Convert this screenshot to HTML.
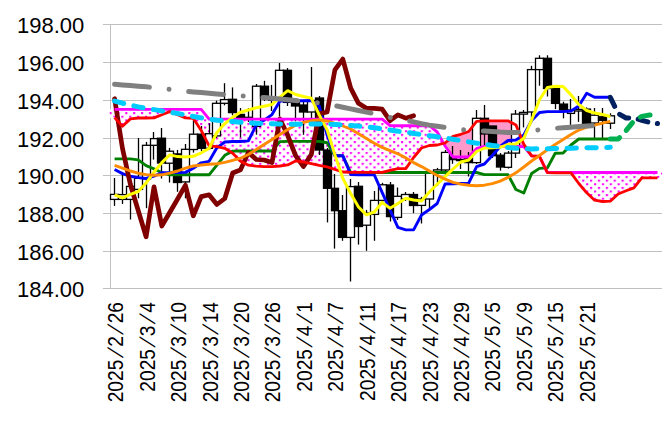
<!DOCTYPE html><html><head><meta charset="utf-8"><title>chart</title><style>
html,body{margin:0;padding:0;background:#fff}
#c{position:relative;width:662px;height:423px;overflow:hidden;background:#fff;font-family:"Liberation Sans",sans-serif;color:#000}
.yl{position:absolute;left:0;width:84.3px;text-align:right;font-size:22px;line-height:24px;height:24px;white-space:nowrap}
.xl{position:absolute;font-size:21.4px;line-height:22px;height:22px;white-space:nowrap;transform-origin:100% 100%;transform:rotate(-90deg) scaleX(0.895);right:0}
.xl i{font-style:normal;display:inline-block;width:14.4px;text-align:center;transform:skewX(-24deg)}
</style></head><body><div id="c">
<svg width="662" height="423" viewBox="0 0 662 423" style="position:absolute;left:0;top:0">
<defs><pattern id="dots" x="3.103" y="7.120" width="7.879" height="7.240" patternUnits="userSpaceOnUse"><rect width="8" height="8" fill="#fff"/><rect x="0" y="0" width="2.2" height="2.05" rx="0.5" fill="#ff00ff"/><rect x="3.939" y="3.620" width="2.2" height="2.05" rx="0.5" fill="#ff00ff"/></pattern><pattern id="dots2" x="3.038" y="2.240" width="7.879" height="7.240" patternUnits="userSpaceOnUse"><rect width="8" height="8" fill="#fff"/><rect x="0" y="0" width="2.2" height="2.05" rx="0.5" fill="#ff00ff"/><rect x="3.939" y="3.620" width="2.2" height="2.05" rx="0.5" fill="#ff00ff"/></pattern></defs>
<line x1="103" y1="24.50" x2="662" y2="24.50" stroke="#c0c0c0" stroke-width="1"/>
<line x1="103" y1="62.50" x2="662" y2="62.50" stroke="#c0c0c0" stroke-width="1"/>
<line x1="103" y1="100.50" x2="662" y2="100.50" stroke="#c0c0c0" stroke-width="1"/>
<line x1="103" y1="138.50" x2="662" y2="138.50" stroke="#c0c0c0" stroke-width="1"/>
<line x1="103" y1="175.50" x2="662" y2="175.50" stroke="#c0c0c0" stroke-width="1"/>
<line x1="103" y1="213.50" x2="662" y2="213.50" stroke="#c0c0c0" stroke-width="1"/>
<line x1="103" y1="251.50" x2="662" y2="251.50" stroke="#c0c0c0" stroke-width="1"/>
<line x1="103" y1="288.50" x2="662" y2="288.50" stroke="#c0c0c0" stroke-width="1"/>
<line x1="110.5" y1="24" x2="110.5" y2="289" stroke="#c0c0c0" stroke-width="1"/>
<rect x="109.6" y="109.4" width="5.3" height="8.2" fill="url(#dots)"/>
<polygon points="114.33,109.40 122.80,109.40 122.80,126.20 114.33,117.60" fill="url(#dots)"/>
<polygon points="122.20,109.40 130.67,109.40 130.67,118.90 122.20,126.20" fill="url(#dots)"/>
<polygon points="130.07,109.40 138.54,109.40 138.54,118.00 130.07,118.90" fill="url(#dots)"/>
<polygon points="137.94,109.40 146.41,109.40 146.41,118.00 137.94,118.00" fill="url(#dots)"/>
<polygon points="145.81,109.40 154.27,109.40 154.27,117.90 145.81,118.00" fill="url(#dots)"/>
<polygon points="153.67,109.40 162.14,109.40 162.14,114.70 153.67,117.90" fill="url(#dots)"/>
<polygon points="161.54,109.40 170.01,109.40 170.01,111.60 161.54,114.70" fill="url(#dots)"/>
<polygon points="169.41,109.40 177.88,109.40 177.88,114.70 169.41,111.60" fill="url(#dots)"/>
<polygon points="177.28,109.40 185.75,109.40 185.75,117.90 177.28,114.70" fill="url(#dots)"/>
<polygon points="185.15,109.40 193.61,109.40 193.61,118.30 185.15,117.90" fill="url(#dots)"/>
<polygon points="193.01,109.40 201.48,109.40 201.48,130.40 193.01,118.30" fill="url(#dots)"/>
<polygon points="200.88,109.40 209.35,119.10 209.35,145.80 200.88,130.40" fill="url(#dots)"/>
<polygon points="208.75,119.10 217.22,119.10 217.22,146.60 208.75,145.80" fill="url(#dots)"/>
<polygon points="216.62,119.10 225.09,119.10 225.09,148.30 216.62,146.60" fill="url(#dots)"/>
<polygon points="224.49,119.10 232.95,119.10 232.95,153.30 224.49,148.30" fill="url(#dots)"/>
<polygon points="232.35,119.10 240.82,119.10 240.82,161.20 232.35,153.30" fill="url(#dots)"/>
<polygon points="240.22,119.10 248.69,119.10 248.69,165.20 240.22,161.20" fill="url(#dots)"/>
<polygon points="248.09,119.10 256.56,119.10 256.56,166.20 248.09,165.20" fill="url(#dots)"/>
<polygon points="255.96,119.10 264.43,119.10 264.43,166.60 255.96,166.20" fill="url(#dots)"/>
<polygon points="263.83,119.10 272.29,119.10 272.29,166.60 263.83,166.60" fill="url(#dots)"/>
<polygon points="271.69,119.10 280.16,119.10 280.16,166.00 271.69,166.60" fill="url(#dots)"/>
<polygon points="279.56,119.10 288.03,119.10 288.03,164.90 279.56,166.00" fill="url(#dots)"/>
<polygon points="287.43,119.10 295.90,119.10 295.90,160.90 287.43,164.90" fill="url(#dots)"/>
<polygon points="295.30,119.10 303.77,119.10 303.77,162.00 295.30,160.90" fill="url(#dots)"/>
<polygon points="303.17,119.10 311.63,119.10 311.63,163.70 303.17,162.00" fill="url(#dots)"/>
<polygon points="311.03,119.10 319.50,119.10 319.50,165.40 311.03,163.70" fill="url(#dots)"/>
<polygon points="318.90,119.10 327.37,119.10 327.37,166.90 318.90,165.40" fill="url(#dots)"/>
<polygon points="326.77,119.10 335.24,119.10 335.24,169.40 326.77,166.90" fill="url(#dots)"/>
<polygon points="334.64,119.10 343.11,119.10 343.11,172.00 334.64,169.40" fill="url(#dots)"/>
<polygon points="342.51,119.10 350.97,119.10 350.97,172.40 342.51,172.00" fill="url(#dots)"/>
<polygon points="350.37,119.10 358.84,119.10 358.84,172.40 350.37,172.40" fill="url(#dots)"/>
<polygon points="358.24,119.10 366.71,119.10 366.71,172.40 358.24,172.40" fill="url(#dots)"/>
<polygon points="366.11,119.10 374.58,119.10 374.58,172.40 366.11,172.40" fill="url(#dots)"/>
<polygon points="373.98,119.10 382.45,119.10 382.45,172.40 373.98,172.40" fill="url(#dots)"/>
<polygon points="381.85,119.10 390.31,125.50 390.31,170.40 381.85,172.40" fill="url(#dots)"/>
<polygon points="389.71,125.50 398.18,125.70 398.18,168.60 389.71,170.40" fill="url(#dots)"/>
<polygon points="397.58,125.70 406.05,125.70 406.05,168.60 397.58,168.60" fill="url(#dots)"/>
<polygon points="405.45,125.70 413.92,125.70 413.92,157.50 405.45,168.60" fill="url(#dots)"/>
<polygon points="413.32,125.70 421.79,125.70 421.79,148.00 413.32,157.50" fill="url(#dots)"/>
<polygon points="421.19,125.70 429.65,125.70 429.65,145.50 421.19,148.00" fill="url(#dots)"/>
<polygon points="429.05,125.70 437.52,132.00 437.52,145.00 429.05,145.50" fill="url(#dots)"/>
<polygon points="436.92,132.00 443.91,143.38 443.91,143.38 436.92,145.00" fill="url(#dots)"/>
<polygon points="443.31,143.38 445.39,146.00 445.39,143.00 443.31,143.38" fill="#ff99cc"/>
<polygon points="444.79,146.00 453.26,157.00 453.26,136.40 444.79,143.00" fill="#ff99cc"/>
<polygon points="452.66,157.00 461.13,157.00 461.13,134.30 452.66,136.40" fill="#ff99cc"/>
<polygon points="460.53,157.00 468.99,157.00 468.99,131.50 460.53,134.30" fill="#ff99cc"/>
<polygon points="468.39,157.00 476.86,148.50 476.86,121.30 468.39,131.50" fill="#ff99cc"/>
<polygon points="476.26,148.50 484.73,146.50 484.73,120.80 476.26,121.30" fill="#ff99cc"/>
<polygon points="484.13,146.50 492.60,146.50 492.60,120.80 484.13,120.80" fill="#ff99cc"/>
<polygon points="492.00,146.50 500.47,146.50 500.47,120.80 492.00,120.80" fill="#ff99cc"/>
<polygon points="499.87,146.50 508.33,146.50 508.33,120.80 499.87,120.80" fill="#ff99cc"/>
<polygon points="507.73,146.50 516.20,146.50 516.20,124.90 507.73,120.80" fill="#ff99cc"/>
<polygon points="515.60,146.50 524.07,146.50 524.07,144.20 515.60,124.90" fill="#ff99cc"/>
<polygon points="523.47,146.50 531.94,155.90 531.94,155.90 523.47,144.20" fill="#ff99cc"/>
<polygon points="539.21,156.50 547.67,172.50 547.67,172.60 539.21,156.50" fill="url(#dots)"/>
<polygon points="547.07,172.50 555.54,172.50 555.54,172.90 547.07,172.60" fill="url(#dots)"/>
<polygon points="554.94,172.50 563.41,172.50 563.41,172.90 554.94,172.90" fill="url(#dots)"/>
<polygon points="562.81,172.50 571.28,172.50 571.28,172.90 562.81,172.90" fill="url(#dots2)"/>
<polygon points="570.68,172.50 579.15,172.50 579.15,183.50 570.68,172.90" fill="url(#dots2)"/>
<polygon points="578.55,172.50 587.01,172.50 587.01,192.80 578.55,183.50" fill="url(#dots2)"/>
<polygon points="586.41,172.50 594.88,172.50 594.88,200.20 586.41,192.80" fill="url(#dots2)"/>
<polygon points="594.28,172.50 602.75,172.50 602.75,201.50 594.28,200.20" fill="url(#dots2)"/>
<polygon points="602.15,172.50 610.62,172.50 610.62,201.20 602.15,201.50" fill="url(#dots2)"/>
<polygon points="610.02,172.50 618.49,172.50 618.49,194.00 610.02,201.20" fill="url(#dots2)"/>
<polygon points="617.89,172.50 626.35,172.50 626.35,190.80 617.89,194.00" fill="url(#dots2)"/>
<polygon points="625.75,172.50 634.22,172.50 634.22,187.90 625.75,190.80" fill="url(#dots2)"/>
<polygon points="633.62,172.50 642.09,172.50 642.09,177.90 633.62,187.90" fill="url(#dots2)"/>
<polygon points="641.49,172.50 649.96,172.50 649.96,177.90 641.49,177.90" fill="url(#dots2)"/>
<polygon points="649.36,172.50 657.83,172.50 657.83,177.90 649.36,177.90" fill="url(#dots2)"/>
<rect x="657.2" y="172.5" width="4.8" height="5.4" fill="url(#dots2)"/>
<line x1="114.5" y1="178.0" x2="114.5" y2="205.9" stroke="#000" stroke-width="1.3"/>
<rect x="110.5" y="194.4" width="8.0" height="5.0" fill="#fff" stroke="#000" stroke-width="1.3"/>
<line x1="122.5" y1="172.0" x2="122.5" y2="203.9" stroke="#000" stroke-width="1.3"/>
<rect x="118.5" y="194.6" width="8.0" height="4.8" fill="#fff" stroke="#000" stroke-width="1.3"/>
<line x1="130.5" y1="183.0" x2="130.5" y2="219.5" stroke="#000" stroke-width="1.3"/>
<rect x="126.5" y="186.4" width="8.0" height="13.0" fill="#fff" stroke="#000" stroke-width="1.3"/>
<line x1="138.5" y1="138.0" x2="138.5" y2="198.3" stroke="#000" stroke-width="1.3"/>
<rect x="134.5" y="178.3" width="8.0" height="11.1" fill="#fff" stroke="#000" stroke-width="1.3"/>
<line x1="146.5" y1="141.9" x2="146.5" y2="208.2" stroke="#000" stroke-width="1.3"/>
<rect x="142.5" y="145.3" width="8.0" height="33.6" fill="#fff" stroke="#000" stroke-width="1.3"/>
<line x1="153.5" y1="132.0" x2="153.5" y2="159.6" stroke="#000" stroke-width="1.3"/>
<rect x="150.5" y="138.6" width="7.0" height="6.7" fill="#fff" stroke="#000" stroke-width="1.3"/>
<line x1="161.5" y1="128.0" x2="161.5" y2="178.5" stroke="#000" stroke-width="1.3"/>
<rect x="157.5" y="138.2" width="8.0" height="24.8" fill="#000" stroke="#000" stroke-width="1.3"/>
<line x1="169.5" y1="147.9" x2="169.5" y2="182.5" stroke="#000" stroke-width="1.3"/>
<rect x="165.5" y="151.2" width="8.0" height="12.0" fill="#fff" stroke="#000" stroke-width="1.3"/>
<line x1="177.5" y1="149.9" x2="177.5" y2="191.8" stroke="#000" stroke-width="1.3"/>
<rect x="173.5" y="153.9" width="8.0" height="28.6" fill="#000" stroke="#000" stroke-width="1.3"/>
<line x1="185.5" y1="144.0" x2="185.5" y2="198.3" stroke="#000" stroke-width="1.3"/>
<rect x="181.5" y="149.3" width="8.0" height="32.6" fill="#fff" stroke="#000" stroke-width="1.3"/>
<line x1="193.5" y1="118.0" x2="193.5" y2="152.6" stroke="#000" stroke-width="1.3"/>
<rect x="189.5" y="134.2" width="8.0" height="15.3" fill="#fff" stroke="#000" stroke-width="1.3"/>
<line x1="201.5" y1="126.0" x2="201.5" y2="151.0" stroke="#000" stroke-width="1.3"/>
<rect x="197.5" y="134.2" width="8.0" height="14.1" fill="#000" stroke="#000" stroke-width="1.3"/>
<line x1="209.5" y1="123.3" x2="209.5" y2="150.0" stroke="#000" stroke-width="1.3"/>
<rect x="205.5" y="133.7" width="7.0" height="14.6" fill="#fff" stroke="#000" stroke-width="1.3"/>
<line x1="216.5" y1="100.6" x2="216.5" y2="138.0" stroke="#000" stroke-width="1.3"/>
<rect x="212.5" y="103.3" width="8.0" height="32.6" fill="#fff" stroke="#000" stroke-width="1.3"/>
<line x1="224.5" y1="83.2" x2="224.5" y2="105.3" stroke="#000" stroke-width="1.3"/>
<rect x="220.5" y="99.6" width="8.0" height="3.7" fill="#fff" stroke="#000" stroke-width="1.3"/>
<line x1="232.5" y1="87.4" x2="232.5" y2="115.3" stroke="#000" stroke-width="1.3"/>
<rect x="228.5" y="99.3" width="8.0" height="13.3" fill="#000" stroke="#000" stroke-width="1.3"/>
<line x1="240.5" y1="108.0" x2="240.5" y2="137.6" stroke="#000" stroke-width="1.3"/>
<rect x="236.5" y="114.4" width="8.0" height="3.0" fill="#000" stroke="#000" stroke-width="1.3"/>
<line x1="248.5" y1="108.0" x2="248.5" y2="122.0" stroke="#000" stroke-width="1.3"/>
<rect x="244.5" y="117.3" width="8.0" height="2.2" fill="#fff" stroke="#000" stroke-width="1.3"/>
<line x1="256.5" y1="84.0" x2="256.5" y2="134.7" stroke="#000" stroke-width="1.3"/>
<rect x="252.5" y="86.2" width="8.0" height="40.2" fill="#fff" stroke="#000" stroke-width="1.3"/>
<line x1="264.5" y1="80.8" x2="264.5" y2="101.0" stroke="#000" stroke-width="1.3"/>
<rect x="260.5" y="86.2" width="8.0" height="11.8" fill="#000" stroke="#000" stroke-width="1.3"/>
<line x1="271.5" y1="84.9" x2="271.5" y2="111.0" stroke="#000" stroke-width="1.3"/>
<rect x="268.5" y="98.0" width="7.0" height="2.2" fill="#000" stroke="#000" stroke-width="1.3"/>
<line x1="279.5" y1="63.0" x2="279.5" y2="116.5" stroke="#000" stroke-width="1.3"/>
<rect x="275.5" y="70.3" width="8.0" height="29.7" fill="#fff" stroke="#000" stroke-width="1.3"/>
<line x1="287.5" y1="68.0" x2="287.5" y2="106.0" stroke="#000" stroke-width="1.3"/>
<rect x="283.5" y="70.3" width="8.0" height="32.1" fill="#000" stroke="#000" stroke-width="1.3"/>
<line x1="295.5" y1="100.0" x2="295.5" y2="121.3" stroke="#000" stroke-width="1.3"/>
<rect x="291.5" y="102.4" width="8.0" height="3.6" fill="#000" stroke="#000" stroke-width="1.3"/>
<line x1="303.5" y1="101.0" x2="303.5" y2="134.8" stroke="#000" stroke-width="1.3"/>
<rect x="299.5" y="105.0" width="8.0" height="7.0" fill="#000" stroke="#000" stroke-width="1.3"/>
<line x1="311.5" y1="67.0" x2="311.5" y2="118.0" stroke="#000" stroke-width="1.3"/>
<rect x="307.5" y="100.5" width="8.0" height="11.5" fill="#fff" stroke="#000" stroke-width="1.3"/>
<line x1="319.5" y1="96.0" x2="319.5" y2="155.0" stroke="#000" stroke-width="1.3"/>
<rect x="315.5" y="98.0" width="8.0" height="52.0" fill="#000" stroke="#000" stroke-width="1.3"/>
<line x1="327.5" y1="148.0" x2="327.5" y2="222.4" stroke="#000" stroke-width="1.3"/>
<rect x="323.5" y="150.0" width="8.0" height="38.3" fill="#000" stroke="#000" stroke-width="1.3"/>
<line x1="334.5" y1="174.0" x2="334.5" y2="248.6" stroke="#000" stroke-width="1.3"/>
<rect x="331.5" y="188.3" width="7.0" height="22.4" fill="#000" stroke="#000" stroke-width="1.3"/>
<line x1="342.5" y1="195.0" x2="342.5" y2="240.8" stroke="#000" stroke-width="1.3"/>
<rect x="338.5" y="210.7" width="8.0" height="26.7" fill="#000" stroke="#000" stroke-width="1.3"/>
<line x1="350.5" y1="179.0" x2="350.5" y2="281.5" stroke="#000" stroke-width="1.3"/>
<rect x="346.5" y="186.6" width="8.0" height="50.8" fill="#fff" stroke="#000" stroke-width="1.3"/>
<line x1="358.5" y1="182.0" x2="358.5" y2="244.6" stroke="#000" stroke-width="1.3"/>
<rect x="354.5" y="186.3" width="8.0" height="40.2" fill="#000" stroke="#000" stroke-width="1.3"/>
<line x1="366.5" y1="209.9" x2="366.5" y2="250.8" stroke="#000" stroke-width="1.3"/>
<rect x="362.5" y="213.0" width="8.0" height="12.2" fill="#fff" stroke="#000" stroke-width="1.3"/>
<line x1="374.5" y1="191.0" x2="374.5" y2="240.8" stroke="#000" stroke-width="1.3"/>
<rect x="370.5" y="200.4" width="8.0" height="14.0" fill="#fff" stroke="#000" stroke-width="1.3"/>
<line x1="382.5" y1="182.8" x2="382.5" y2="203.0" stroke="#000" stroke-width="1.3"/>
<rect x="378.5" y="184.8" width="8.0" height="15.6" fill="#fff" stroke="#000" stroke-width="1.3"/>
<line x1="390.5" y1="182.0" x2="390.5" y2="221.5" stroke="#000" stroke-width="1.3"/>
<rect x="386.5" y="185.0" width="7.0" height="31.6" fill="#000" stroke="#000" stroke-width="1.3"/>
<line x1="397.5" y1="187.5" x2="397.5" y2="220.0" stroke="#000" stroke-width="1.3"/>
<rect x="393.5" y="196.3" width="8.0" height="21.1" fill="#fff" stroke="#000" stroke-width="1.3"/>
<line x1="405.5" y1="192.0" x2="405.5" y2="201.0" stroke="#000" stroke-width="1.3"/>
<rect x="401.5" y="194.5" width="8.0" height="4.5" fill="#fff" stroke="#000" stroke-width="1.3"/>
<line x1="413.5" y1="192.0" x2="413.5" y2="213.2" stroke="#000" stroke-width="1.3"/>
<rect x="409.5" y="194.5" width="8.0" height="11.0" fill="#000" stroke="#000" stroke-width="1.3"/>
<line x1="421.5" y1="196.8" x2="421.5" y2="223.5" stroke="#000" stroke-width="1.3"/>
<rect x="417.5" y="199.0" width="8.0" height="6.4" fill="#fff" stroke="#000" stroke-width="1.3"/>
<line x1="429.5" y1="171.0" x2="429.5" y2="208.2" stroke="#000" stroke-width="1.3"/>
<rect x="425.5" y="173.0" width="8.0" height="26.0" fill="#fff" stroke="#000" stroke-width="1.3"/>
<line x1="437.5" y1="167.9" x2="437.5" y2="186.0" stroke="#000" stroke-width="1.3"/>
<rect x="433.5" y="169.9" width="8.0" height="3.1" fill="#fff" stroke="#000" stroke-width="1.3"/>
<line x1="445.5" y1="150.0" x2="445.5" y2="175.0" stroke="#000" stroke-width="1.3"/>
<rect x="441.5" y="152.4" width="8.0" height="17.6" fill="#fff" stroke="#000" stroke-width="1.3"/>
<line x1="452.5" y1="146.0" x2="452.5" y2="163.8" stroke="#000" stroke-width="1.3"/>
<rect x="449.5" y="157.0" width="7.0" height="2.6" fill="#000" stroke="#000" stroke-width="1.3"/>
<line x1="460.5" y1="150.0" x2="460.5" y2="169.0" stroke="#000" stroke-width="1.3"/>
<rect x="456.5" y="159.4" width="8.0" height="1.2" fill="#000" stroke="#000" stroke-width="1.3"/>
<line x1="468.5" y1="152.0" x2="468.5" y2="176.5" stroke="#000" stroke-width="1.3"/>
<rect x="464.5" y="158.0" width="8.0" height="4.6" fill="#000" stroke="#000" stroke-width="1.3"/>
<line x1="476.5" y1="110.0" x2="476.5" y2="164.0" stroke="#000" stroke-width="1.3"/>
<rect x="472.5" y="118.3" width="8.0" height="44.3" fill="#fff" stroke="#000" stroke-width="1.3"/>
<line x1="484.5" y1="105.0" x2="484.5" y2="146.0" stroke="#000" stroke-width="1.3"/>
<rect x="480.5" y="118.3" width="8.0" height="15.7" fill="#000" stroke="#000" stroke-width="1.3"/>
<line x1="492.5" y1="126.0" x2="492.5" y2="158.0" stroke="#000" stroke-width="1.3"/>
<rect x="488.5" y="126.0" width="8.0" height="29.7" fill="#000" stroke="#000" stroke-width="1.3"/>
<line x1="500.5" y1="153.0" x2="500.5" y2="170.7" stroke="#000" stroke-width="1.3"/>
<rect x="496.5" y="155.2" width="8.0" height="11.8" fill="#000" stroke="#000" stroke-width="1.3"/>
<line x1="508.5" y1="151.0" x2="508.5" y2="168.6" stroke="#000" stroke-width="1.3"/>
<rect x="504.5" y="153.1" width="7.0" height="14.2" fill="#fff" stroke="#000" stroke-width="1.3"/>
<line x1="515.5" y1="110.0" x2="515.5" y2="158.0" stroke="#000" stroke-width="1.3"/>
<rect x="511.5" y="114.1" width="8.0" height="39.0" fill="#fff" stroke="#000" stroke-width="1.3"/>
<line x1="523.5" y1="110.0" x2="523.5" y2="127.4" stroke="#000" stroke-width="1.3"/>
<rect x="519.5" y="112.4" width="8.0" height="1.7" fill="#fff" stroke="#000" stroke-width="1.3"/>
<line x1="531.5" y1="65.8" x2="531.5" y2="118.3" stroke="#000" stroke-width="1.3"/>
<rect x="527.5" y="69.6" width="8.0" height="42.4" fill="#fff" stroke="#000" stroke-width="1.3"/>
<line x1="539.5" y1="55.3" x2="539.5" y2="85.7" stroke="#000" stroke-width="1.3"/>
<rect x="535.5" y="58.3" width="8.0" height="11.3" fill="#fff" stroke="#000" stroke-width="1.3"/>
<line x1="547.5" y1="55.3" x2="547.5" y2="96.5" stroke="#000" stroke-width="1.3"/>
<rect x="543.5" y="58.3" width="8.0" height="30.2" fill="#000" stroke="#000" stroke-width="1.3"/>
<line x1="555.5" y1="87.0" x2="555.5" y2="109.1" stroke="#000" stroke-width="1.3"/>
<rect x="551.5" y="88.5" width="8.0" height="14.9" fill="#000" stroke="#000" stroke-width="1.3"/>
<line x1="563.5" y1="101.7" x2="563.5" y2="118.3" stroke="#000" stroke-width="1.3"/>
<rect x="559.5" y="104.1" width="8.0" height="5.9" fill="#000" stroke="#000" stroke-width="1.3"/>
<line x1="570.5" y1="99.0" x2="570.5" y2="124.9" stroke="#000" stroke-width="1.3"/>
<rect x="567.5" y="110.0" width="7.0" height="3.4" fill="#fff" stroke="#000" stroke-width="1.3"/>
<line x1="578.5" y1="96.0" x2="578.5" y2="121.9" stroke="#000" stroke-width="1.3"/>
<rect x="574.5" y="109.4" width="8.0" height="1.6" fill="#fff" stroke="#000" stroke-width="1.3"/>
<line x1="586.5" y1="107.4" x2="586.5" y2="126.0" stroke="#000" stroke-width="1.3"/>
<rect x="582.5" y="109.1" width="8.0" height="14.3" fill="#000" stroke="#000" stroke-width="1.3"/>
<line x1="594.5" y1="108.0" x2="594.5" y2="139.9" stroke="#000" stroke-width="1.3"/>
<rect x="590.5" y="115.2" width="8.0" height="7.8" fill="#fff" stroke="#000" stroke-width="1.3"/>
<line x1="602.5" y1="108.0" x2="602.5" y2="138.2" stroke="#000" stroke-width="1.3"/>
<rect x="598.5" y="116.8" width="8.0" height="3.5" fill="#000" stroke="#000" stroke-width="1.3"/>
<line x1="610.5" y1="113.3" x2="610.5" y2="129.0" stroke="#000" stroke-width="1.3"/>
<rect x="606.5" y="115.8" width="8.0" height="7.4" fill="#fff" stroke="#000" stroke-width="1.3"/>
<polyline points="114.6,158.9 122.5,158.9 130.4,158.9 138.2,159.9 146.1,165.7 154.0,168.8 161.8,172.7 169.7,174.8 177.6,174.8 185.4,174.8 193.3,174.8 201.2,174.8 209.1,174.8 216.9,165.2 224.8,155.3 232.7,151.1 240.5,151.0 248.4,151.0 256.3,151.0 264.1,151.0 272.0,151.0 279.9,141.6 287.7,141.4 295.6,141.4 303.5,141.4 311.3,141.4 319.2,141.4 327.1,142.7 334.9,155.8 342.8,155.8 350.7,172.5 358.5,172.5 366.4,172.5 374.3,172.5 382.1,172.5 390.0,172.5 397.9,172.5 405.8,172.5 413.6,172.5 421.5,172.5 429.4,172.5 437.2,172.5 445.1,172.5 453.0,172.5 460.8,172.5 468.7,172.5 476.6,172.5 484.4,174.6 492.3,174.6 500.2,174.6 508.0,174.6 515.9,189.5 523.8,193.0 531.6,173.5 539.5,168.4 547.4,167.9 555.2,153.2 563.1,153.0 571.0,145.0 578.8,139.0 586.7,139.0 594.6,139.0 602.5,139.0 610.3,139.0" fill="none" stroke="#008000" stroke-width="2.9" stroke-linejoin="round" stroke-linecap="butt" />
<polyline points="114.6,169.5 122.5,173.6 130.4,176.3 138.2,177.6 146.1,178.5 154.0,176.2 161.8,172.6 169.7,172.6 177.6,172.6 185.4,172.4 193.3,168.2 201.2,162.8 209.1,161.3 216.9,147.8 224.8,142.0 232.7,141.5 240.5,141.5 248.4,140.9 256.3,124.8 264.1,120.2 272.0,114.6 279.9,101.0 287.7,100.7 295.6,100.7 303.5,100.7 311.3,100.5 319.2,106.0 327.1,135.0 334.9,155.5 342.8,155.8 350.7,174.5 358.5,174.7 366.4,174.7 374.3,174.9 382.1,192.4 390.0,209.9 397.9,227.4 405.8,229.9 413.6,229.9 421.5,215.0 429.4,209.5 437.2,203.5 445.1,184.0 453.0,183.8 460.8,183.5 468.7,183.2 476.6,166.6 484.4,164.0 492.3,155.5 500.2,146.5 508.0,140.5 515.9,140.0 523.8,135.0 531.6,120.5 539.5,112.5 547.4,111.6 555.2,111.6 563.1,111.6 571.0,111.0 578.8,106.0 586.7,93.2 594.6,97.3 602.5,97.3 610.3,97.3" fill="none" stroke="#0000ff" stroke-width="2.9" stroke-linejoin="round" stroke-linecap="butt" />
<polyline points="114.6,98.7 122.5,148.5 130.4,184.5 138.2,210.5 146.1,236.8 154.0,186.8 161.8,226.0 169.7,212.5 177.6,199.0 185.4,185.3 193.3,215.8 201.2,196.6 209.1,194.8 216.9,204.5 224.8,198.5 232.7,173.0 240.5,169.9 248.4,152.4 256.3,159.5 264.1,160.0 272.0,162.5 279.9,118.9 287.7,135.3 295.6,155.7 303.5,166.6 311.3,154.5 319.2,113.8 327.1,112.0 334.9,69.9 342.8,59.1 350.7,88.2 358.5,103.3 366.4,108.3 374.3,108.3 382.1,109.1 390.0,120.7 397.9,114.9 405.8,118.2 413.6,115.7" fill="none" stroke="#800000" stroke-width="4.7" stroke-linejoin="round" stroke-linecap="round" />
<polyline points="114.6,109.4 122.5,109.4 130.4,109.4 138.2,109.4 146.1,109.4 154.0,109.4 161.8,109.4 169.7,109.4 177.6,109.4 185.4,109.4 193.3,109.4 201.2,109.4 209.1,119.1 216.9,119.1 224.8,119.1 232.7,119.1 240.5,119.1 248.4,119.1 256.3,119.1 264.1,119.1 272.0,119.1 279.9,119.1 287.7,119.1 295.6,119.1 303.5,119.1 311.3,119.1 319.2,119.1 327.1,119.1 334.9,119.1 342.8,119.1 350.7,119.1 358.5,119.1 366.4,119.1 374.3,119.1 382.1,119.1 390.0,125.5 397.9,125.7 405.8,125.7 413.6,125.7 421.5,125.7 429.4,125.7 437.2,132.0 445.1,146.0 453.0,157.0 460.8,157.0 468.7,157.0 476.6,148.5 484.4,146.5 492.3,146.5 500.2,146.5 508.0,146.5 515.9,146.5 523.8,146.5 531.6,155.9 539.5,156.5 547.4,172.5 555.2,172.5 563.1,172.5 571.0,172.5 578.8,172.5 586.7,172.5 594.6,172.5 602.5,172.5 610.3,172.5 618.2,172.5 626.1,172.5 633.9,172.5 641.8,172.5 649.7,172.5 657.5,172.5" fill="none" stroke="#ff00ff" stroke-width="2.9" stroke-linejoin="round" stroke-linecap="butt" />
<polyline points="114.6,117.6 122.5,126.2 130.4,118.9 138.2,118.0 146.1,118.0 154.0,117.9 161.8,114.7 169.7,111.6 177.6,114.7 185.4,117.9 193.3,118.3 201.2,130.4 209.1,145.8 216.9,146.6 224.8,148.3 232.7,153.3 240.5,161.2 248.4,165.2 256.3,166.2 264.1,166.6 272.0,166.6 279.9,166.0 287.7,164.9 295.6,160.9 303.5,162.0 311.3,163.7 319.2,165.4 327.1,166.9 334.9,169.4 342.8,172.0 350.7,172.4 358.5,172.4 366.4,172.4 374.3,172.4 382.1,172.4 390.0,170.4 397.9,168.6 405.8,168.6 413.6,157.5 421.5,148.0 429.4,145.5 437.2,145.0 445.1,143.0 453.0,136.4 460.8,134.3 468.7,131.5 476.6,121.3 484.4,120.8 492.3,120.8 500.2,120.8 508.0,120.8 515.9,124.9 523.8,144.2 531.6,155.9 539.5,156.5 547.4,172.6 555.2,172.9 563.1,172.9 571.0,172.9 578.8,183.5 586.7,192.8 594.6,200.2 602.5,201.5 610.3,201.2 618.2,194.0 626.1,190.8 633.9,187.9 641.8,177.9 649.7,177.9 657.5,177.9" fill="none" stroke="#ff0000" stroke-width="2.8" stroke-linejoin="round" stroke-linecap="butt" />
<polyline points="114.6,194.9 122.5,197.9 130.4,194.4 138.2,191.5 146.1,183.0 154.0,172.0 161.8,162.6 169.7,154.9 177.6,156.6 185.4,157.0 193.3,156.3 201.2,152.8 209.1,148.5 216.9,132.5 224.8,123.6 232.7,117.3 240.5,112.3 248.4,110.0 256.3,107.8 264.1,106.2 272.0,104.5 279.9,97.1 287.7,90.7 295.6,94.5 303.5,96.5 311.3,98.1 319.2,114.9 327.1,129.7 334.9,154.9 342.8,178.2 350.7,193.6 358.5,207.0 366.4,214.9 374.3,212.0 382.1,202.4 390.0,208.2 397.9,203.5 405.8,198.3 413.6,200.0 421.5,201.0 429.4,192.0 437.2,184.3 445.1,176.6 453.0,169.0 460.8,162.0 468.7,160.0 476.6,151.5 484.4,148.0 492.3,147.7 500.2,147.3 508.0,144.5 515.9,144.0 523.8,138.3 531.6,120.0 539.5,99.8 547.4,87.5 555.2,86.3 563.1,86.5 571.0,94.9 578.8,104.5 586.7,110.5 594.6,113.0 602.5,114.5 610.3,116.5" fill="none" stroke="#ffff00" stroke-width="3" stroke-linejoin="round" stroke-linecap="butt" />
<polyline points="114.6,165.3 122.5,168.2 130.4,171.0 138.2,173.2 146.1,174.6 154.0,175.2 161.8,174.8 169.7,173.2 177.6,171.0 185.4,168.2 193.3,166.0 201.2,165.0 209.1,164.3 216.9,163.8 224.8,162.4 232.7,160.4 240.5,158.2 248.4,154.5 256.3,149.5 264.1,144.5 272.0,139.5 279.9,134.5 287.7,129.6 295.6,125.2 303.5,122.4 311.3,120.8 319.2,119.9 327.1,121.0 334.9,123.3 342.8,126.0 350.7,129.0 358.5,133.7 366.4,138.5 374.3,143.2 382.1,147.4 390.0,150.6 397.9,153.8 405.8,157.9 413.6,162.6 421.5,166.6 429.4,171.1 437.2,175.4 445.1,179.1 453.0,182.4 460.8,184.1 468.7,185.2 476.6,185.7 484.4,185.2 492.3,183.7 500.2,181.1 508.0,177.4 515.9,172.8 523.8,167.0 531.6,161.0 539.5,155.5 547.4,149.8 555.2,144.4 563.1,139.4 571.0,134.5 578.8,130.1 586.7,127.2 594.6,125.2 602.5,123.2 610.3,121.3" fill="none" stroke="#ff8c00" stroke-width="2.9" stroke-linejoin="round" stroke-linecap="butt" />
<polyline points="114.6,101.1 122.5,103.2 130.4,105.1 138.2,106.9 146.1,108.3 154.0,109.6 161.8,110.9 169.7,112.2 177.6,113.4 185.4,115.0 193.3,116.5 201.2,117.9 209.1,119.1 216.9,120.2 224.8,120.9 232.7,121.6 240.5,122.2 248.4,122.7 256.3,123.2 264.1,123.5 272.0,123.8 279.9,124.0 287.7,124.2 295.6,124.3 303.5,124.2 311.3,124.0 319.2,124.0 327.1,124.2 334.9,124.4 342.8,124.9 350.7,125.4 358.5,126.0 366.4,126.9 374.3,127.8 382.1,128.9 390.0,130.0 397.9,131.2 405.8,132.3 413.6,133.4 421.5,134.5 429.4,135.7 437.2,136.8 445.1,138.0 453.0,139.3 460.8,140.6 468.7,141.9 476.6,143.2 484.4,144.3 492.3,145.4 500.2,146.4 508.0,147.5 515.9,148.3 523.8,148.7 531.6,149.0 539.5,148.8 547.4,148.7 555.2,148.5 563.1,148.3 571.0,148.2 578.8,148.0 586.7,147.8 594.6,147.7 602.5,147.5 610.3,147.3" fill="none" stroke="#00ccff" stroke-width="5" stroke-linejoin="round" stroke-linecap="round" stroke-dasharray="9.4 10.43"/>
<polyline points="114.6,84.3 122.5,84.9 130.4,85.6 138.2,86.2 146.1,86.8 154.0,87.6 161.8,88.5 169.7,89.4 177.6,90.4 185.4,91.3 193.3,92.0 201.2,92.6 209.1,93.2 216.9,93.9 224.8,94.5 232.7,95.1 240.5,95.7 248.4,96.4 256.3,97.0 264.1,97.6 272.0,98.3 279.9,99.1 287.7,99.8 295.6,100.5 303.5,101.2 311.3,102.0 319.2,102.9 327.1,104.2 334.9,105.6 342.8,107.2 350.7,108.9 358.5,110.5 366.4,112.1 374.3,113.8 382.1,115.6 390.0,117.4 397.9,118.9 405.8,120.3 413.6,121.9 421.5,123.7 429.4,125.1 437.2,126.3 445.1,127.4 453.0,128.5 460.8,129.6 468.7,130.2 476.6,130.6 484.4,131.1 492.3,131.6 500.2,132.1 508.0,132.4 515.9,132.4 523.8,131.8 531.6,130.7 539.5,129.7 547.4,129.0 555.2,128.3 563.1,127.7 571.0,127.2 578.8,126.6 586.7,126.1 594.6,125.5 602.5,125.0 610.3,124.5" fill="none" stroke="#808080" stroke-width="5" stroke-linejoin="round" stroke-linecap="round" stroke-dasharray="34.9 19.77 0.01 19.77"/>
<polyline points="610.3,97.3 618.2,113.5 626.1,118.0 633.9,117.8 641.8,120.3 649.7,122.5 657.5,123.6" fill="none" stroke="#002060" stroke-width="5" stroke-linejoin="round" stroke-linecap="round" stroke-dasharray="10 9.7"/>
<polyline points="610.3,139.1 618.2,139.1 626.1,130.6 633.9,121.0 641.8,116.4 649.7,115.0 657.5,115.0" fill="none" stroke="#00b050" stroke-width="5" stroke-linejoin="round" stroke-linecap="round" stroke-dasharray="10 9.7"/>
</svg>
<div class="yl" style="top:13.5px">198.00</div>
<div class="yl" style="top:51.5px">196.00</div>
<div class="yl" style="top:89.5px">194.00</div>
<div class="yl" style="top:127.5px">192.00</div>
<div class="yl" style="top:164.5px">190.00</div>
<div class="yl" style="top:202.5px">188.00</div>
<div class="yl" style="top:240.5px">186.00</div>
<div class="yl" style="top:277.5px">184.00</div>
<div class="xl" style="right:534.70px;top:280.4px">2025<i>/</i>2<i>/</i>26</div>
<div class="xl" style="right:503.27px;top:280.4px">2025<i>/</i>3<i>/</i>4</div>
<div class="xl" style="right:471.84px;top:280.4px">2025<i>/</i>3<i>/</i>10</div>
<div class="xl" style="right:440.41px;top:280.4px">2025<i>/</i>3<i>/</i>14</div>
<div class="xl" style="right:408.98px;top:280.4px">2025<i>/</i>3<i>/</i>20</div>
<div class="xl" style="right:377.55px;top:280.4px">2025<i>/</i>3<i>/</i>26</div>
<div class="xl" style="right:346.12px;top:280.4px">2025<i>/</i>4<i>/</i>1</div>
<div class="xl" style="right:314.69px;top:280.4px">2025<i>/</i>4<i>/</i>7</div>
<div class="xl" style="right:283.26px;top:280.4px">2025<i>/</i>4<i>/</i>11</div>
<div class="xl" style="right:251.83px;top:280.4px">2025<i>/</i>4<i>/</i>17</div>
<div class="xl" style="right:220.40px;top:280.4px">2025<i>/</i>4<i>/</i>23</div>
<div class="xl" style="right:188.97px;top:280.4px">2025<i>/</i>4<i>/</i>29</div>
<div class="xl" style="right:157.54px;top:280.4px">2025<i>/</i>5<i>/</i>5</div>
<div class="xl" style="right:126.11px;top:280.4px">2025<i>/</i>5<i>/</i>9</div>
<div class="xl" style="right:94.68px;top:280.4px">2025<i>/</i>5<i>/</i>15</div>
<div class="xl" style="right:63.25px;top:280.4px">2025<i>/</i>5<i>/</i>21</div>
</div></body></html>
